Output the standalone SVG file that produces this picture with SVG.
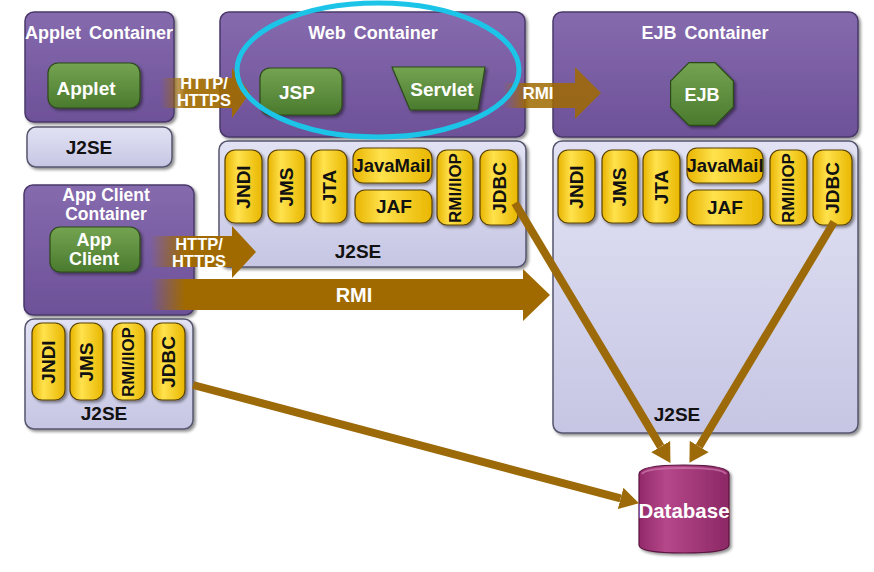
<svg xmlns="http://www.w3.org/2000/svg" width="874" height="572" viewBox="0 0 874 572">
<defs>
<linearGradient id="gPurple" x1="0" y1="0" x2="0" y2="1">
<stop offset="0" stop-color="#866aae"/><stop offset="1" stop-color="#6d5198"/>
</linearGradient>
<linearGradient id="gLav" x1="0" y1="0" x2="0" y2="1">
<stop offset="0" stop-color="#e2e2f4"/><stop offset="1" stop-color="#c6c6e4"/>
</linearGradient>
<linearGradient id="gGreen" x1="0" y1="0" x2="0" y2="1">
<stop offset="0" stop-color="#74a451"/><stop offset="1" stop-color="#4a7a2e"/>
</linearGradient>
<linearGradient id="gYellow" x1="0" y1="0" x2="1" y2="0">
<stop offset="0" stop-color="#e8b400"/><stop offset="0.35" stop-color="#ffe24d"/><stop offset="1" stop-color="#e9b700"/>
</linearGradient>
<linearGradient id="gDb" x1="0" y1="0" x2="1" y2="0">
<stop offset="0" stop-color="#92296a"/><stop offset="0.3" stop-color="#b5478a"/><stop offset="1" stop-color="#8c2865"/>
</linearGradient>
<linearGradient id="fadeH1" gradientUnits="userSpaceOnUse" x1="160" y1="0" x2="185" y2="0">
<stop offset="0" stop-color="#a06a00" stop-opacity="0"/><stop offset="1" stop-color="#a06a00" stop-opacity="1"/>
</linearGradient>
<linearGradient id="fadeH2" gradientUnits="userSpaceOnUse" x1="150" y1="0" x2="185" y2="0">
<stop offset="0" stop-color="#a06a00" stop-opacity="0"/><stop offset="1" stop-color="#a06a00" stop-opacity="1"/>
</linearGradient>
<linearGradient id="fadeR1" gradientUnits="userSpaceOnUse" x1="503" y1="0" x2="525" y2="0">
<stop offset="0" stop-color="#a06a00" stop-opacity="0"/><stop offset="1" stop-color="#a06a00" stop-opacity="1"/>
</linearGradient>
<filter id="sh" x="-10%" y="-10%" width="125%" height="125%">
<feDropShadow dx="2" dy="2" stdDeviation="1.5" flood-color="#000" flood-opacity="0.45"/>
</filter>
<marker id="ah" markerUnits="userSpaceOnUse" markerWidth="20" markerHeight="24" viewBox="0 -12 20 24" refX="0" refY="0" orient="auto">
<path d="M0,-11 L19,0 L0,11 z" fill="#9c6a08"/>
</marker>
</defs>
<style>
.cont{fill:url(#gPurple);stroke:#4a3869;stroke-width:1.5;filter:url(#sh)}
.j2se{fill:url(#gLav);stroke:#55556e;stroke-width:1.5;filter:url(#sh)}
.grn{fill:url(#gGreen);stroke:#2c4a1a;stroke-width:1.2;filter:url(#sh)}
.pill{fill:url(#gYellow);stroke:#5a4300;stroke-width:1.2;filter:url(#sh)}
.t{font-family:"Liberation Sans",Arial,sans-serif;font-weight:bold;text-anchor:middle}
.w{fill:#fff}
.k{fill:#111}
.ttl{font-size:18px;word-spacing:3px}
.lbl{font-size:19px}
.pt{font-size:19px}
.conn{stroke:#9c6a08;stroke-width:8;fill:none;marker-end:url(#ah)}
</style>

<!-- Applet side -->
<g id="applet-container">
<rect class="cont" x="25" y="12" width="149" height="110" rx="9"/>
<text class="t w ttl" x="99" y="39">Applet Container</text>
</g>
<g id="applet">
<rect class="grn" x="48" y="63" width="92" height="45" rx="10"/>
<text class="t w lbl" x="86" y="95">Applet</text>
</g>
<g id="applet-j2se">
<rect class="j2se" x="27" y="127" width="145" height="40" rx="9"/>
<text class="t k lbl" x="89" y="154">J2SE</text>
</g>

<!-- Web container -->
<g id="web-container">
<rect class="cont" x="220" y="12" width="305" height="125" rx="9"/>
<text class="t w ttl" x="373" y="39">Web Container</text>
</g>
<g id="jsp">
<rect class="grn" x="260" y="68" width="82" height="47" rx="10"/>
<text class="t w lbl" x="297" y="99">JSP</text>
</g>
<g id="servlet">
<polygon class="grn" points="392,67 485,67 478,110 410,110"/>
<text class="t w lbl" x="442" y="96">Servlet</text>
</g>
<g id="web-j2se">
<rect class="j2se" x="219" y="141" width="307" height="126" rx="9"/>
<text class="t k lbl" x="358" y="258">J2SE</text>
<rect class="pill" x="225" y="150" width="37" height="73" rx="10"/>
<text class="t k pt" transform="translate(250,187) rotate(-90)">JNDI</text>
<rect class="pill" x="268" y="150" width="37" height="73" rx="10"/>
<text class="t k pt" transform="translate(293,187) rotate(-90)">JMS</text>
<rect class="pill" x="311" y="150" width="36" height="73" rx="10"/>
<text class="t k pt" transform="translate(336,187) rotate(-90)">JTA</text>
<rect class="pill" x="353" y="148" width="79" height="35" rx="10"/>
<text class="t k" style="font-size:18.5px" x="392" y="172">JavaMail</text>
<rect class="pill" x="355" y="190" width="77" height="33" rx="10"/>
<text class="t k pt" x="394" y="213">JAF</text>
<rect class="pill" x="437" y="150" width="36" height="75" rx="10"/>
<text class="t k" style="font-size:17px" transform="translate(461,188) rotate(-90)">RMI/IIOP</text>
<rect class="pill" x="480" y="150" width="38" height="75" rx="10"/>
<text class="t k pt" transform="translate(506,188) rotate(-90)">JDBC</text>
</g>

<!-- EJB container -->
<g id="ejb-container">
<rect class="cont" x="553" y="12" width="305" height="125" rx="9"/>
<text class="t w ttl" x="705" y="39">EJB Container</text>
</g>
<g id="ejb">
<polygon class="grn" points="733.4,81 733.4,107 715,125.4 689,125.4 670.6,107 670.6,81 689,62.6 715,62.6"/>
<text class="t w" style="font-size:18px" x="702" y="101">EJB</text>
</g>
<g id="ejb-j2se">
<rect class="j2se" x="553" y="141" width="305" height="292" rx="9"/>
<text class="t k lbl" x="677" y="421">J2SE</text>
<rect class="pill" x="558" y="150" width="37" height="73" rx="10"/>
<text class="t k pt" transform="translate(583,187) rotate(-90)">JNDI</text>
<rect class="pill" x="602" y="150" width="36" height="73" rx="10"/>
<text class="t k pt" transform="translate(626,187) rotate(-90)">JMS</text>
<rect class="pill" x="643" y="150" width="37" height="73" rx="10"/>
<text class="t k pt" transform="translate(668,187) rotate(-90)">JTA</text>
<rect class="pill" x="687" y="148" width="76" height="35" rx="10"/>
<text class="t k" style="font-size:18.5px" x="725" y="172">JavaMail</text>
<rect class="pill" x="687" y="190" width="76" height="35" rx="10"/>
<text class="t k pt" x="725" y="214">JAF</text>
<rect class="pill" x="770" y="150" width="37" height="75" rx="10"/>
<text class="t k" style="font-size:17px" transform="translate(794,188) rotate(-90)">RMI/IIOP</text>
<rect class="pill" x="813" y="150" width="39" height="75" rx="10"/>
<text class="t k pt" transform="translate(839,188) rotate(-90)">JDBC</text>
</g>

<!-- App client -->
<g id="app-client-container">
<rect class="cont" x="24" y="185" width="170" height="130" rx="9"/>
<text class="t w" style="font-size:17.5px" x="106" y="201">App Client</text>
<text class="t w" style="font-size:17.5px" x="106" y="220">Container</text>
</g>
<g id="app-client">
<rect class="grn" x="50" y="227" width="90" height="45" rx="10"/>
<text class="t w" style="font-size:18px" x="94" y="246">App</text>
<text class="t w" style="font-size:18px" x="94" y="265">Client</text>
</g>
<g id="app-j2se">
<rect class="j2se" x="25" y="319" width="168" height="110" rx="9"/>
<text class="t k lbl" x="104" y="420">J2SE</text>
<rect class="pill" x="32" y="323" width="33" height="77" rx="10"/>
<text class="t k pt" transform="translate(55,362) rotate(-90)">JNDI</text>
<rect class="pill" x="70" y="323" width="33" height="77" rx="10"/>
<text class="t k pt" transform="translate(93,362) rotate(-90)">JMS</text>
<rect class="pill" x="112" y="323" width="33" height="77" rx="10"/>
<text class="t k" style="font-size:17px" transform="translate(134,362) rotate(-90)">RMI/IIOP</text>
<rect class="pill" x="152" y="323" width="33" height="77" rx="10"/>
<text class="t k pt" transform="translate(175,362) rotate(-90)">JDBC</text>
</g>

<!-- Database -->
<g id="database">
<path d="M639,474 Q639,465 684,465 Q729,465 729,474 L729,545 Q729,553 684,553 Q639,553 639,545 Z" fill="url(#gDb)" stroke="#5a1440" stroke-width="1.2" filter="url(#sh)"/>
<path d="M642,474 Q645,468 684,468 Q723,468 726,474" fill="none" stroke="#d07aae" stroke-width="2" opacity="0.7"/>
<text class="t w" style="font-size:20.5px" x="684" y="518">Database</text>
</g>

<!-- Connectors -->
<g id="connectors">
<polygon points="160,78 232,78 232,68 250,93 232,118 232,108 160,108" fill="url(#fadeH1)" opacity="0.92"/>
<text class="t w" style="font-size:16.5px" x="204" y="89">HTTP/</text>
<text class="t w" style="font-size:16.5px" x="204" y="106">HTTPS</text>

<polygon points="503,83 575,83 575,67 601,93 575,119 575,108 503,108" fill="url(#fadeR1)" opacity="0.85"/>
<text class="t w" style="font-size:17px" x="538" y="99">RMI</text>

<polygon points="150,236 232,236 232,226 256,252 232,278 232,267 150,267" fill="url(#fadeH2)"/>
<text class="t w" style="font-size:16.5px" x="199" y="250">HTTP/</text>
<text class="t w" style="font-size:16.5px" x="199" y="267">HTTPS</text>

<polygon points="150,279 523,279 523,269 550,295 523,321 523,310 150,310" fill="url(#fadeH2)"/>
<text class="t w" style="font-size:20px" x="354" y="302">RMI</text>

<line class="conn" x1="515" y1="203" x2="660.7" y2="446.6"/>
<line class="conn" x1="834" y1="222" x2="699.2" y2="446.5"/>
<line class="conn" x1="193" y1="385" x2="620.6" y2="498.4"/>
</g>

<g id="highlight">
<ellipse cx="378" cy="70" rx="141" ry="67" fill="none" stroke="#1cc4e8" stroke-width="5"/>
</g>
</svg>
